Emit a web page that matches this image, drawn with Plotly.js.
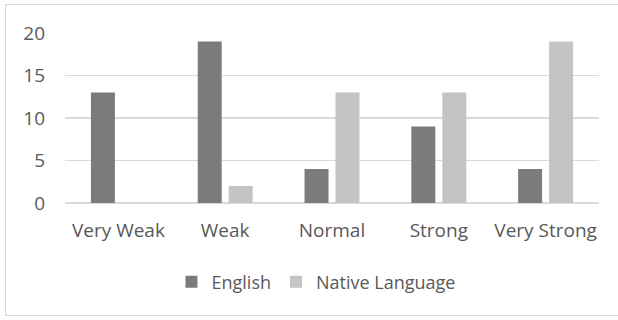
<!DOCTYPE html>
<html>
<head>
<meta charset="utf-8">
<script src="https://cdn.plot.ly/plotly-3.0.1.min.js"></script>
<style>
  html, body { margin: 0; padding: 0; background: #ffffff; }
  #wrap { position: relative; width: 618px; height: 320px; overflow: hidden; }
  #frame { position: absolute; left: 5px; top: 4px; width: 620px; height: 312px;
           border: 1.5px solid #d9d9d9; box-sizing: border-box; pointer-events: none; }
  #chart { position: absolute; left: 0; top: 0; width: 618px; height: 320px; }
</style>
</head>
<body>
<div id="wrap">
  <div id="chart"></div>
  <div id="frame"></div>
</div>
<script>
// Self-rated proficiency levels
const categories = ["Very Weak", "Weak", "Normal", "Strong", "Very Strong"];
const englishCounts = [13, 19, 4, 9, 4];
const nativeCounts = [0, 2, 13, 13, 19];
const yTickValues = [0, 5, 10, 15, 20];

const labelFont = { family: "'Open Sans', sans-serif", size: 19, color: "#595959" };
const legendFont = { family: "'Open Sans', sans-serif", size: 18, color: "#595959" };

const traces = [
  {
    type: "bar", name: "English", x: categories, y: englishCounts,
    marker: { color: "#7b7b7b", line: { width: 0 } },
    hoverinfo: "skip"
  },
  {
    type: "bar", name: "Native Language", x: categories, y: nativeCounts,
    marker: { color: "#c4c4c4", line: { width: 0 } },
    hoverinfo: "skip"
  }
];

const layout = {
  width: 618, height: 320,
  margin: { l: 65, r: 19, t: 33, b: 117 },
  paper_bgcolor: "rgba(0,0,0,0)", plot_bgcolor: "rgba(0,0,0,0)",
  barmode: "group", bargap: 0.42, bargroupgap: 0.226,
  font: labelFont,
  showlegend: true,
  legend: {
    orientation: "h", x: 0.47, xanchor: "center", y: -0.465, yanchor: "middle",
    font: legendFont, itemclick: false, itemdoubleclick: false
  },
  xaxis: {
    showgrid: false, zeroline: false, showline: false, ticks: "",
    tickfont: labelFont, ticklabelstandoff: 14
  },
  yaxis: {
    range: [0, 20], tickvals: yTickValues, ticks: "",
    showgrid: true, gridcolor: "#d9d9d9", gridwidth: 1.4,
    zeroline: true, zerolinecolor: "#d9d9d9", zerolinewidth: 1.4,
    showline: false, tickfont: labelFont, ticklabelstandoff: 19
  }
};

Plotly.newPlot("chart", traces, layout, { staticPlot: true, displayModeBar: false });
</script>
</body>
</html>
